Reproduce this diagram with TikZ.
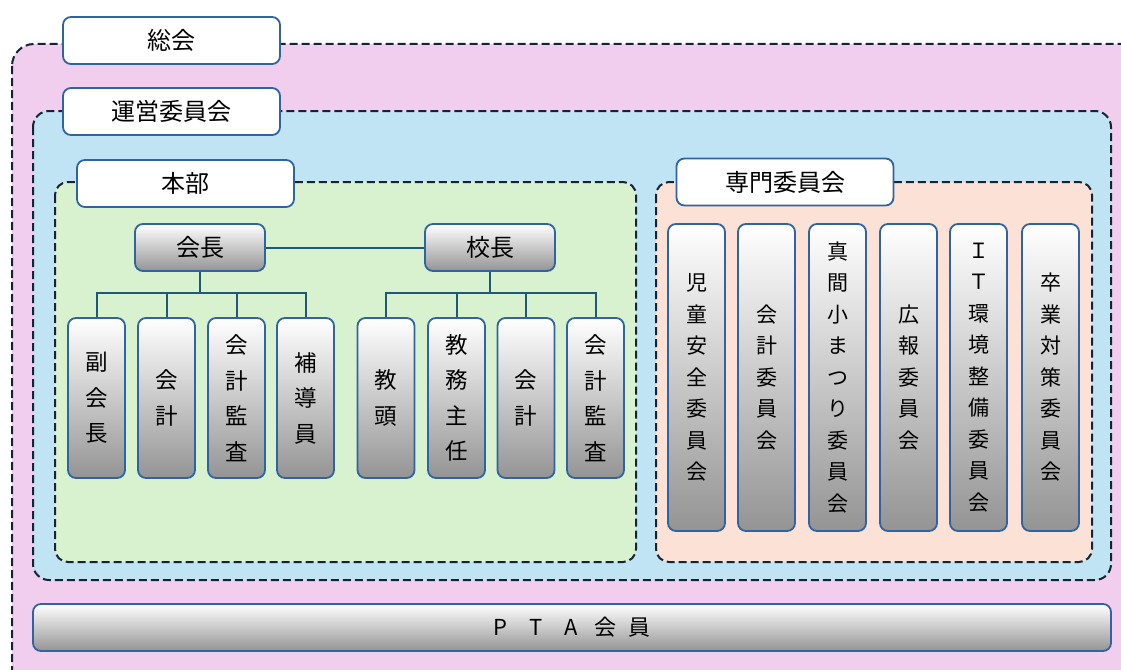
\documentclass[tikz,border=0pt]{standalone}
\usepackage{fontspec}
\newfontfamily\jp{Noto Sans CJK JP}
\definecolor{pinkbg}{RGB}{242,206,238}
\definecolor{bluebg}{RGB}{192,228,244}
\definecolor{greenbg}{RGB}{216,242,208}
\definecolor{orangebg}{RGB}{252,226,214}
\definecolor{dashc}{RGB}{20,36,52}
\definecolor{boxblue}{RGB}{46,100,160}
\definecolor{connc}{RGB}{30,90,120}
\tikzset{
  region/.style={draw=dashc, dash pattern=on 8pt off 4pt, line width=2pt},
  labelbox/.style={draw=boxblue, fill=white, rounded corners=8pt, line width=1.8pt,
    minimum width=217pt, minimum height=47pt, inner sep=0pt, font=\jp\fontsize{24}{28}\selectfont},
  gbox/.style={draw=boxblue, rounded corners=8pt, line width=1.8pt, top color=white,
    bottom color=black!42, inner sep=0pt},
  hbox/.style={gbox, minimum width=130pt, minimum height=47pt, font=\jp\fontsize{24}{28}\selectfont},
  vboxL/.style={gbox, minimum width=57pt, minimum height=160pt, align=center,
    font=\jp\fontsize{22.5}{35.5}\selectfont},
  vboxC/.style={gbox, minimum width=57pt, minimum height=307pt, align=center,
    font=\jp\fontsize{21}{31.5}\selectfont},
  conn/.style={draw=connc, line width=2pt}
}
\begin{document}
\begin{tikzpicture}[x=1pt,y=-1pt]
\useasboundingbox (0,0) rectangle (1121,669);
\clip (0,0) rectangle (1121,669);
\fill[white] (0,0) rectangle (1121,669);
% regions
\draw[region, fill=pinkbg, rounded corners=22pt] (12,44) rectangle (1150,700);
\draw[region, fill=bluebg, rounded corners=16pt] (33,111) rectangle (1111,580);
\draw[region, fill=greenbg, rounded corners=13pt] (55,182) rectangle (636,562);
\draw[region, fill=orangebg, rounded corners=13pt] (656,182) rectangle (1092,562);
% labels
\node[labelbox] (sokai) at (171.5,40.5) {総会};
\node[labelbox] (unei) at (171.5,111.5) {運営委員会};
\node[labelbox] (honbu) at (185.5,183.5) {本部};
\node[labelbox] (senmon) at (785,182) {専門委員会};
% heads
\node[hbox] (kaicho) at (200,247.5) {会長};
\node[hbox] (kocho) at (490,247.5) {校長};
% left group
\node[vboxL] (a1) at (96.5,398) {副\\会\\長};
\node[vboxL] (a2) at (166.5,398) {会\\計};
\node[vboxL] (a3) at (236.5,398) {会\\計\\監\\査};
\node[vboxL] (a4) at (305.5,398) {補\\導\\員};
% right group
\node[vboxL] (b1) at (386,398) {教\\頭};
\node[vboxL] (b2) at (456.5,398) {教\\務\\主\\任};
\node[vboxL] (b3) at (526,398) {会\\計};
\node[vboxL] (b4) at (595.5,398) {会\\計\\監\\査};
% committees
\node[vboxC] (c1) at (696.5,377.5) {児\\童\\安\\全\\委\\員\\会};
\node[vboxC] (c2) at (766.5,377.5) {会\\計\\委\\員\\会};
\node[vboxC] (c3) at (837.5,377.5) {真\\間\\小\\ま\\つ\\り\\委\\員\\会};
\node[vboxC] (c4) at (908.5,377.5) {広\\報\\委\\員\\会};
\node[vboxC] (c5) at (978.5,377.5) {Ｉ\\Ｔ\\環\\境\\整\\備\\委\\員\\会};
\node[vboxC] (c6) at (1050.5,377.5) {卒\\業\\対\\策\\委\\員\\会};
% PTA
\node[gbox, minimum width=1078pt, minimum height=47pt, font=\jp\fontsize{22}{26}\selectfont] (pta) at (572,627.5)
  {P\hspace{22pt}T\hspace{22pt}A\hspace{16pt}会\hspace{12pt}員};
% connectors
\coordinate (jL) at (200,293);
\coordinate (jR) at (490,293);
\draw[conn] (kaicho) -- (kocho);
\draw[conn] (kaicho.south) -- (jL);
\draw[conn] (kocho.south) -- (jR);
\foreach \n in {a1,a2,a3,a4} \draw[conn] (\n.north) |- (jL);
\foreach \n in {b1,b2,b3,b4} \draw[conn] (\n.north) |- (jR);
\end{tikzpicture}
\end{document}
